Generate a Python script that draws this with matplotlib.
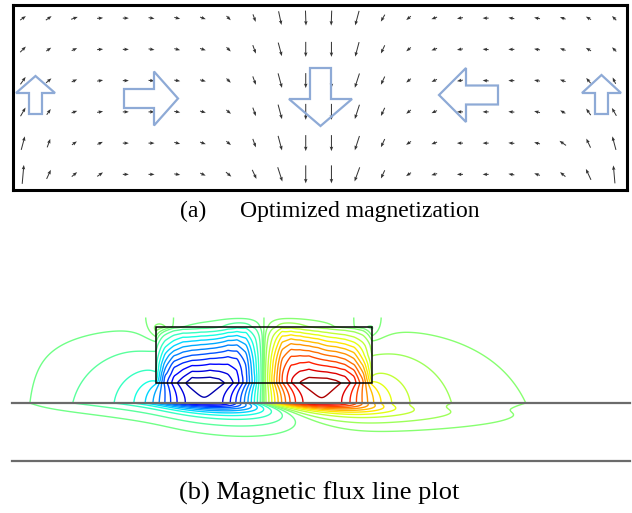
import numpy as np
import matplotlib.pyplot as plt
from matplotlib.patches import Polygon, Rectangle

# optimized magnetization: direction (deg, counter-clockwise from +x) per row, top row first
ang_r0 = [35, 35, 20, 5, 0, -10, -15, -20, -45, -70, -78, -88, -92, -105, -120, -140, -160, -170, 180, 170, 168, 160, 150, 135]
ang_r1 = [45, 35, 25, 5, 0, -10, -15, -18, -45, -70, -75, -90, -90, -105, -115, -140, -160, -170, 175, 180, 170, 160, 150, 135]
ang_r2 = [55, 40, 25, 10, 0, -5, -10, -15, -45, -70, -75, -90, -90, -108, -115, -140, -155, -170, 175, 180, 170, 160, 130, 115]
ang_r3 = [60, 55, 20, 10, 0, 0, -10, -15, -40, -70, -75, -90, -90, -108, -115, -140, -155, 180, 180, 175, 165, 150, 125, 120]
ang_r4 = [75, 70, 35, 25, 0, 0, -15, -20, -40, -70, -75, -90, -90, -108, -115, -145, -160, 180, 180, 175, 165, 145, 115, 105]
ang_r5 = [85, 65, 40, 35, 0, 0, -10, -25, -40, -65, -72, -90, -90, -110, -115, -145, -165, 180, 180, 170, 160, 140, 115, 95]
# magnitude (arrow length, px)
len_r0 = [7, 7, 7, 6, 6, 6, 6, 6, 6, 8, 14, 15, 15, 15, 8, 6, 6, 6, 6, 6, 6, 6, 6, 6]
len_r1 = [8, 6, 6, 6, 6, 6, 6, 6, 6, 9, 14, 15, 15, 15, 9, 6, 6, 6, 6, 6, 6, 6, 6, 6]
len_r2 = [9, 7, 6, 6, 6, 6, 6, 6, 6, 9, 15, 15, 15, 15, 9, 6, 6, 6, 6, 6, 6, 6, 7, 7]
len_r3 = [10, 7, 6, 6, 6, 6, 6, 6, 6, 9, 15, 16, 16, 15, 9, 6, 6, 6, 6, 6, 6, 6, 8, 9]
len_r4 = [14, 9, 6, 6, 6, 6, 6, 6, 6, 9, 15, 16, 16, 15, 9, 6, 6, 6, 6, 6, 6, 8, 10, 14]
len_r5 = [19, 10, 7, 7, 6, 6, 6, 6, 7, 10, 15, 18, 18, 15, 9, 6, 6, 6, 6, 6, 6, 7, 12, 18]

ang = np.radians([ang_r0, ang_r1, ang_r2, ang_r3, ang_r4, ang_r5])
mag = np.array([len_r0, len_r1, len_r2, len_r3, len_r4, len_r5], dtype=float)
Mx = mag * np.cos(ang)
My = mag * np.sin(ang)
nrow, ncol = Mx.shape

W, H = 632, 513
fig = plt.figure(figsize=(W / 100, H / 100), dpi=100)

def box(x0, y0, x1, y1):
    return [x0 / W, 1 - y1 / H, (x1 - x0) / W, (y1 - y0) / H]

# ---- (a) magnetization arrows
ax1 = fig.add_axes(box(13, 5, 627, 190))
X, Y = np.meshgrid(np.arange(ncol), np.arange(nrow))
ax1.quiver(X, Y, Mx, My, angles='uv', scale_units='dots', scale=1, units='dots',
           width=1.0, headwidth=3.5, headlength=4.5, headaxislength=4, pivot='middle',
           color='#333333')
ax1.set_xlim(-0.39, 23.5)
ax1.set_ylim(5.5, -0.42)
ax1.set_xticks([])
ax1.set_yticks([])
for s in ax1.spines.values():
    s.set_linewidth(2.2)

# overlay in pixel coordinates
ax0 = fig.add_axes([0, 0, 1, 1], zorder=3)
ax0.set_xlim(0, W)
ax0.set_ylim(H, 0)
ax0.axis('off')
ax0.patch.set_alpha(0)

# block arrows: centre x, centre y, direction, length, head length, head width, shaft width
block_arrows = [
    (35.5, 95, 90, 38, 17, 39, 13),
    (151, 98.5, 0, 54, 24, 54, 19),
    (320.5, 97, -90, 58, 27, 63, 21),
    (468.5, 95, 180, 59, 27, 54, 19),
    (601.5, 94.5, 90, 39, 18, 39, 13),
]
for cx, cy, a, L, hl, hw, sw in block_arrows:
    pts = np.array([(-L / 2, -sw / 2), (L / 2 - hl, -sw / 2), (L / 2 - hl, -hw / 2), (L / 2, 0),
                    (L / 2 - hl, hw / 2), (L / 2 - hl, sw / 2), (-L / 2, sw / 2)])
    t = np.radians(a)
    px = cx + pts[:, 0] * np.cos(t) + pts[:, 1] * np.sin(t)
    py = cy - pts[:, 0] * np.sin(t) + pts[:, 1] * np.cos(t)
    ax0.add_patch(Polygon(np.c_[px, py], closed=True, fill=False, ec='#8eaad6', lw=1.6))

# ---- (b) flux lines of the same magnet above a steel plate
mag_l, mag_r, mag_t, mag_b = 156, 372, 327, 383
plate_top, plate_bot = 403, 461
dom_l, dom_r, dom_t = 12, 630, 316   # flux-free boundary of the solved region
cw = (mag_r - mag_l) / ncol
ch = (mag_b - mag_t) / nrow
depth_scale = 12.0   # decay of flux into the plate, px
drag = 3.5           # smearing of flux in the plate per px of depth
decay_l, decay_r = 22.0, 70.0   # how fast flux dies towards the side boundaries, px
n_levels = 12        # contour steps on each side of zero
weak_level = 0.35    # extra faint level, in steps

def sheet(Xp, Yu, a, b, c, K, horizontal):
    if horizontal:
        u1, u2, h = Xp - a, Xp - b, Yu - c
    else:
        u1, u2, h = Yu - a, Yu - b, Xp - c
    h = np.where(np.abs(h) < 1e-6, 1e-6, h)
    G = lambda u: u * np.log(u * u + h * h + 1e-12) - 2 * u + 2 * h * np.arctan(u / h)
    return -K * 0.5 * (G(u1) - G(u2)) / (2 * np.pi)

pad = np.zeros((1, ncol))
Kh = np.vstack([Mx, pad]) - np.vstack([pad, Mx])           # horizontal boundaries
padc = np.zeros((nrow, 1))
Kv = np.hstack([My, padc]) - np.hstack([padc, My])         # vertical boundaries
Ys = -plate_top
Yt = -dom_t

def potential(Xp, Yp):
    Yu = -Yp
    A = np.zeros_like(Xp)
    for jb in range(nrow + 1):
        yc = -(mag_t + jb * ch)
        for i in range(ncol):
            K = Kh[jb, i]
            if K == 0:
                continue
            xl = mag_l + i * cw
            for yy, s in ((yc, 1), (2 * Ys - yc, 1), (2 * Yt - yc, -1), (2 * Yt - (2 * Ys - yc), -1)):
                A += sheet(Xp, Yu, xl, xl + cw, yy, s * K, True)
    for ib in range(ncol + 1):
        xc = mag_l + ib * cw
        for j in range(nrow):
            K = Kv[j, ib]
            if K == 0:
                continue
            yt, yb = -(mag_t + j * ch), -(mag_t + (j + 1) * ch)
            it, ibm = 2 * Ys - yt, 2 * Ys - yb
            for lo, hi, s in ((yb, yt, 1), (it, ibm, 1), (2 * Yt - yt, 2 * Yt - yb, -1),
                              (2 * Yt - ibm, 2 * Yt - it, -1)):
                A += sheet(Xp, Yu, lo, hi, xc, s * K, False)
    return A

xs = np.arange(dom_l + 0.5, dom_r - 0.5, 1.0)
ys_air = np.arange(dom_t + 1.5, plate_top + 0.01, 1.0)
ys_air[-1] = plate_top
XA, YA = np.meshgrid(xs, ys_air)
A_air = potential(XA, YA)
A_surf = A_air[-1]

ys_pl = np.arange(plate_top, plate_top + 55, 1.0)
A_pl = []
for y in ys_pl:
    d = y - plate_top
    lam = 0.5 + drag * d
    t = np.arange(0, int(6 * lam) + 2)
    k = np.exp(-t / lam)
    k /= k.sum()
    ext = np.r_[np.full(len(t), A_surf[0]), A_surf]
    sm = np.convolve(ext, k)[len(t):len(t) + len(xs)]
    A_pl.append(sm * np.exp(-d / depth_scale))
A_pl = np.array(A_pl)

A_all = np.vstack([A_air, A_pl[1:]])
y_all = np.r_[ys_air, ys_pl[1:]]
side = (1 - np.exp(-(xs - dom_l) / decay_l)) * (1 - np.exp(-(dom_r - xs) / decay_r))
A_all = A_all * side

gap = (y_all > mag_b) & (y_all < plate_top)
amax = np.abs(A_all[gap]).max() * 1.02
step = amax / n_levels
steps = np.r_[-np.arange(n_levels - 1, 0, -1), -weak_level, weak_level, np.arange(1, n_levels)]
ax0.contour(xs, y_all, A_all, levels=steps * step, cmap='jet', vmin=-amax, vmax=amax,
            linewidths=1.0, zorder=1)
air = y_all <= plate_top
ax0.contour(xs, y_all[air], A_all[air], levels=[0], colors=[plt.cm.jet(0.5)],
            linewidths=1.0, zorder=1)

ax0.add_patch(Rectangle((mag_l, mag_t), mag_r - mag_l, mag_b - mag_t, fill=False, ec='black', lw=1.1, zorder=4))
ax0.plot([12, 630], [plate_top, plate_top], color='#6b6b6b', lw=1.6, zorder=4)
ax0.plot([12, 630], [plate_bot, plate_bot], color='#6b6b6b', lw=1.6, zorder=4)

ax0.text(180, 217, '(a)', fontsize=17, family='Liberation Serif', va='baseline')
ax0.text(240, 217, 'Optimized magnetization', fontsize=17, family='Liberation Serif', va='baseline')
ax0.text(319, 500, '(b) Magnetic flux line plot', fontsize=19, family='Liberation Serif',
         va='baseline', ha='center')

fig.savefig('out.png', dpi=100)
